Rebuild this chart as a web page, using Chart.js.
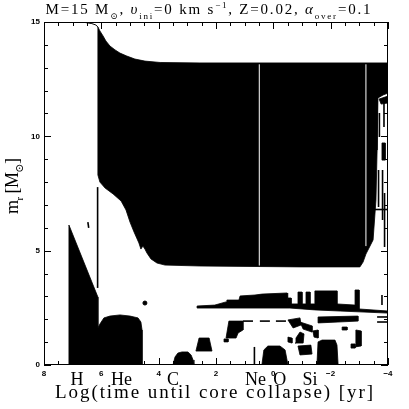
<!DOCTYPE html>
<html>
<head>
<meta charset="UTF-8">
<title>Kippenhahn diagram, 15 Msun</title>
<script src="https://cdn.jsdelivr.net/npm/chart.js"></script>
<style>
  html, body { margin: 0; padding: 0; background: #fff; }
  #chart { display: block; }
</style>
</head>
<body>
<canvas id="chart" width="409" height="409"></canvas>
<script>
// axis ticks
const xTickValues = [8, 6, 4, 2, 0, -2, -4];
const yTickValues = [0, 5, 10, 15];
// burning stages written under the axis: name, log(t)
const stageNames = ['H', 'He', 'C', 'Ne', 'O', 'Si'];
const stageLogT = [6.85, 5.3, 3.5, 0.62, -0.22, -1.28];

// convective zones as [log(t until collapse), m_r] outlines
const surface = [[8, 15], [7.0, 15], [6.57, 14.98], [6.33, 14.93], [6.19, 14.87], [6.12, 14.78]];
const envelope = [[6.12, 14.78], [6.05, 14.61], [5.94, 14.39], [5.84, 14.17], [5.70, 13.95], [5.52, 13.78],
  [5.35, 13.64], [5.11, 13.51], [4.83, 13.38], [4.48, 13.29], [3.95, 13.23], [2.56, 13.21], [-4.0, 13.21],
  [-4.0, 11.89], [-3.83, 11.81], [-3.65, 11.68], [-3.62, 9.40], [-3.58, 7.22], [-3.48, 5.47], [-3.23, 4.85],
  [-3.13, 4.50], [-3.02, 4.29], [-0.93, 4.29], [2.56, 4.33], [3.78, 4.37], [4.06, 4.46], [4.27, 4.64],
  [4.41, 4.90], [4.48, 5.07], [4.55, 5.20], [4.62, 5.07], [4.69, 5.34], [4.86, 5.82], [5.00, 6.25],
  [5.14, 6.78], [5.31, 7.17], [5.59, 7.48], [5.87, 7.74], [6.05, 8.00], [6.12, 8.31]];
const hCore = [[7.13, 0], [7.13, 6.12], [6.12, 2.97], [6.12, 1.62], [6.05, 1.79], [5.91, 2.06], [5.70, 2.14],
  [5.35, 2.19], [5.00, 2.14], [4.72, 2.06], [4.62, 1.88], [4.58, 1.53], [4.58, 0]];
const cCore = [[3.50, 0], [3.43, 0.35], [3.33, 0.52], [3.19, 0.57], [2.98, 0.57], [2.87, 0.44], [2.80, 0.22], [2.77, 0]];
const cShell1 = [[2.70, 0.61], [2.59, 1.18], [2.24, 1.18], [2.14, 0.61]];
const cShell2 = [[1.65, 1.18], [1.55, 1.92], [1.06, 1.92], [1.06, 1.53], [1.23, 1.40], [1.30, 1.18]];
const neShell = [[2.66, 2.49], [2.66, 2.58], [2.04, 2.62], [1.65, 2.76], [1.62, 2.84], [1.20, 2.84], [1.16, 3.02],
  [0.64, 3.06], [0.40, 3.10], [-0.48, 3.15], [-0.48, 2.71], [-0.51, 2.71], [-0.51, 2.93], [-0.62, 2.93],
  [-0.62, 2.67], [-0.86, 2.67], [-0.86, 3.19], [-1.00, 3.19], [-1.00, 2.67], [-1.14, 2.67], [-1.14, 3.19],
  [-1.28, 3.19], [-1.28, 2.67], [-1.45, 2.67], [-1.45, 3.24], [-2.22, 3.24], [-2.22, 2.67], [-2.85, 2.62],
  [-2.85, 3.28], [-2.99, 3.28], [-2.99, 2.45], [-4.0, 2.36], [-4.0, 2.27], [-2.33, 2.36], [-1.45, 2.41], [-0.58, 2.49]];
const oCore = [[0.40, 0], [0.33, 0.66], [0.19, 0.83], [-0.23, 0.83], [-0.41, 0.66], [-0.51, 0]];
const siCore = [[-1.52, 0], [-1.56, 1.01], [-1.70, 1.09], [-2.15, 1.09], [-2.22, 0.87], [-2.26, 0]];
const oShell = [[-1.56, 2.10], [-2.95, 2.14], [-2.95, 1.92], [-1.56, 1.84]];
const blobs = [
  [[-0.51, 1.97], [-0.93, 2.06], [-0.97, 1.75], [-0.69, 1.62]],
  [[-0.93, 1.88], [-1.35, 1.71], [-1.35, 1.44], [-1.04, 1.57]],
  [[-0.93, 1.44], [-1.07, 1.36], [-1.04, 0.96], [-0.76, 0.96], [-0.79, 1.18]],
  [[-1.38, 1.49], [-1.56, 1.53], [-1.56, 1.18], [-1.42, 1.22]],
  [[-0.51, 1.22], [-0.65, 1.18], [-0.65, 0.96], [-0.51, 1.01]],
  [[-0.86, 0.83], [-1.31, 0.87], [-1.35, 0.48], [-0.93, 0.44]],
  [[-2.88, 1.53], [-3.06, 1.49], [-3.06, 0.83], [-2.85, 0.79]],
  [[-2.40, 1.66], [-2.57, 1.66], [-2.57, 1.53], [-2.40, 1.53]],
  [[-2.71, 0.92], [-2.85, 0.92], [-2.85, 0.74], [-2.71, 0.74]],
  [[1.72, 1.14], [1.58, 1.14], [1.58, 1.01], [1.72, 1.01]],
  [[-3.69, 11.63], [-4.0, 11.76], [-4.0, 11.46], [-3.76, 11.41]],
  [[-3.79, 9.71], [-3.90, 9.71], [-3.90, 8.96], [-3.79, 8.96]]
];
// thin convective strips
const strips = [
  [[6.13, 3.37], [6.13, 7.78]],
  [[0.66, 0], [0.66, 0.79]],
  [[-3.79, 2.62], [-3.79, 3.06]],
  [[-3.62, 2.10], [-4.0, 2.10]],
  [[-3.62, 1.88], [-4.0, 1.88]],
  [[1.06, 1.92], [0.71, 1.92]],
  [[0.47, 1.92], [0.12, 1.92]],
  [[-0.09, 1.92], [-0.44, 1.92]],
  [[-3.86, 11.46], [-3.86, 10.41]],
  [[-3.70, 11.02], [-3.70, 9.97]],
  [[-3.67, 8.53], [-3.67, 6.91]],
  [[-3.81, 8.53], [-3.81, 6.34]],
  [[-3.37, 6.80], [-3.97, 6.80]],
  [[-3.88, 7.52], [-3.88, 5.16]],
  [[6.47, 6.25], [6.44, 6.0]]
];
// radiative gaps inside the envelope
const gaps = [
  [[0.49, 4.35], [0.49, 13.15]],
  [[-3.23, 5.2], [-3.23, 13.15]]
];
const spot = [[4.48, 2.71]];

const pts = a => a.map(p => ({ x: p[0], y: p[1] }));
const zone = a => ({
  data: pts(a.concat([a[0]])), showLine: true, fill: 'shape',
  backgroundColor: '#000', borderColor: '#000', borderWidth: 0.8, pointRadius: 0, tension: 0
});
const line = (a, color, w, order) => ({
  data: pts(a), showLine: true, fill: false, borderColor: color, borderWidth: w,
  pointRadius: 0, order: order
});

const datasets = [];
gaps.forEach(g => datasets.push(line(g, '#fff', 1, -1)));
[envelope, hCore, cCore, cShell1, cShell2, neShell, oCore, siCore, oShell].forEach(z => datasets.push(zone(z)));
blobs.forEach(b => datasets.push(zone(b)));
strips.forEach(s => datasets.push(line(s, '#000', 1.6, 0)));
datasets.push(line(surface, '#000', 1, 0));
datasets.push({ data: pts(spot), pointRadius: 2, backgroundColor: '#000', borderColor: '#000', showLine: false });

// text with sub/superscripts, spread to a target width
function richText(ctx, parts, cx, base, size, family, target) {
  const fontFor = p => (p.it ? 'italic ' : '') + Math.round(p.s ? size * 0.62 : size) + 'px ' + family;
  let n = 0, w = 0;
  parts.forEach(p => {
    ctx.font = fontFor(p);
    for (const ch of p.t) { w += ctx.measureText(ch).width; n++; }
  });
  const sp = target ? (target - w) / (n - 1) : 0;
  let x = cx - (w + sp * (n - 1)) / 2;
  parts.forEach(p => {
    ctx.font = fontFor(p);
    const dy = p.s === 'sub' ? size * 0.3 : p.s === 'sup' ? -size * 0.4 : 0;
    for (const ch of p.t) {
      ctx.fillText(ch, x, base + dy);
      x += ctx.measureText(ch).width + sp;
    }
  });
}

const axesPlugin = {
  id: 'axes',
  afterDraw(chart) {
    const { ctx, chartArea: a, scales: { x, y } } = chart;
    ctx.save();
    ctx.strokeStyle = '#000';
    ctx.fillStyle = '#000';
    ctx.lineWidth = 1;
    ctx.strokeRect(a.left + 0.5, a.top + 0.5, a.right - a.left - 1, a.bottom - a.top - 1);
    ctx.beginPath();
    for (let v = -4; v <= 8.001; v += 0.5) {
      const px = Math.round(x.getPixelForValue(v)) + 0.5;
      const len = Math.abs(v % 2) < 1e-6 ? 7 : 4;
      ctx.moveTo(px, a.bottom); ctx.lineTo(px, a.bottom - len);
      ctx.moveTo(px, a.top); ctx.lineTo(px, a.top + len);
    }
    for (let v = 0; v <= 15.001; v += 1) {
      const py = Math.round(y.getPixelForValue(v)) + 0.5;
      const len = v % 5 === 0 ? 7 : 4;
      ctx.moveTo(a.left, py); ctx.lineTo(a.left + len, py);
      ctx.moveTo(a.right, py); ctx.lineTo(a.right - len, py);
    }
    ctx.stroke();

    ctx.font = 'bold 8px "Liberation Sans", Arial, sans-serif';
    ctx.textAlign = 'right';
    ctx.textBaseline = 'middle';
    yTickValues.forEach(v => ctx.fillText(String(v), a.left - 4, y.getPixelForValue(v)));
    ctx.textAlign = 'center';
    ctx.textBaseline = 'alphabetic';
    xTickValues.forEach(v => ctx.fillText(v < 0 ? '\u2212' + (-v) : String(v), x.getPixelForValue(v), a.bottom + 11));

    ctx.font = '18px "Liberation Serif", "DejaVu Serif", serif';
    stageNames.forEach((s, i) => ctx.fillText(s, x.getPixelForValue(stageLogT[i]), a.bottom + 20));

    ctx.textAlign = 'left';
    richText(ctx, [{ t: 'Log(time until core collapse) [yr]' }], 214, 398, 19, '"Liberation Serif", serif', 318);
    richText(ctx, [
      { t: 'M=15 M' }, { t: '\u2299', s: 'sub' }, { t: ', ' }, { t: '\u03c5', it: 1 }, { t: 'ini', s: 'sub' },
      { t: '=0 km s' }, { t: '\u22121', s: 'sup' }, { t: ', Z=0.02, ' }, { t: '\u03b1', it: 1 },
      { t: 'over', s: 'sub' }, { t: '=0.1' }
    ], 208, 14, 15, '"Liberation Serif", "DejaVu Serif", serif', 325);

    ctx.translate(18, 186);
    ctx.rotate(-Math.PI / 2);
    richText(ctx, [{ t: 'm' }, { t: 'r', s: 'sub' }, { t: ' [M' }, { t: '\u2299', s: 'sub' }, { t: ']' }],
      0, 0, 18, '"Liberation Serif", "DejaVu Serif", serif', 56);
    ctx.restore();
  }
};

new Chart(document.getElementById('chart'), {
  type: 'scatter',
  data: { datasets: datasets },
  options: {
    responsive: false,
    animation: false,
    events: [],
    layout: { padding: { left: 44, right: 21, top: 22, bottom: 44 } },
    plugins: { legend: { display: false }, title: { display: false }, tooltip: { enabled: false } },
    scales: {
      x: { type: 'linear', min: -4, max: 8, reverse: true, display: false },
      y: { type: 'linear', min: 0, max: 15, display: false }
    }
  },
  plugins: [axesPlugin]
});
</script>
</body>
</html>
